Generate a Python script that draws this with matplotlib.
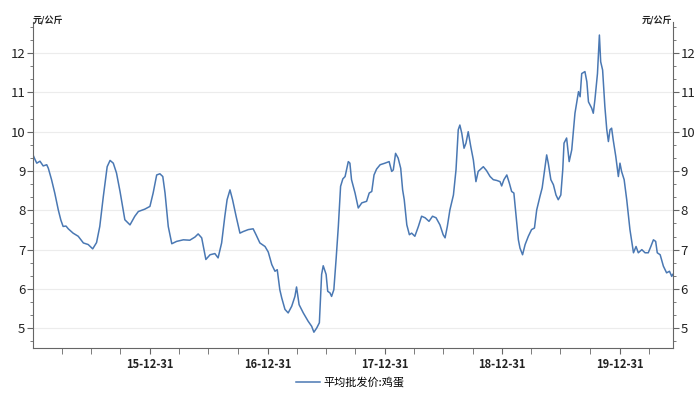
import numpy as np
import pandas as pd
import matplotlib
matplotlib.use('Agg')
import matplotlib.pyplot as plt
import matplotlib.dates as mdates
from matplotlib.ticker import MultipleLocator

plt.rcParams['font.family'] = ['Noto Sans CJK SC', 'DejaVu Sans']

# wholesale egg price, yuan/kg
dates = [
    '2015-01-01', '2015-01-06', '2015-01-13', '2015-01-23', '2015-02-02', '2015-02-13',
    '2015-02-18', '2015-02-28', '2015-03-10', '2015-03-21', '2015-03-29', '2015-04-05',
    '2015-04-14', '2015-04-21', '2015-05-06', '2015-05-22', '2015-06-07', '2015-06-22',
    '2015-07-06', '2015-07-18', '2015-07-28', '2015-08-08', '2015-08-20', '2015-08-29',
    '2015-09-08', '2015-09-18', '2015-09-29', '2015-10-14', '2015-10-30', '2015-11-14',
    '2015-11-25', '2015-12-15', '2015-12-31',
    '2016-01-10', '2016-01-21', '2016-01-31', '2016-02-09', '2016-02-16', '2016-02-26',
    '2016-03-08', '2016-03-23', '2016-04-13', '2016-05-03', '2016-05-19', '2016-05-29',
    '2016-06-09', '2016-06-22', '2016-07-05', '2016-07-20', '2016-07-30', '2016-08-10',
    '2016-08-20', '2016-08-27', '2016-09-05', '2016-09-13', '2016-09-24', '2016-10-06',
    '2016-10-16', '2016-11-01', '2016-11-16', '2016-11-25', '2016-12-07', '2016-12-23',
    '2017-01-02', '2017-01-13', '2017-01-23', '2017-01-30', '2017-02-07', '2017-02-13',
    '2017-02-23', '2017-03-05', '2017-03-16', '2017-03-26', '2017-03-31', '2017-04-08',
    '2017-04-21', '2017-05-06', '2017-05-17', '2017-05-24', '2017-06-02', '2017-06-10',
    '2017-06-17', '2017-06-22', '2017-07-01', '2017-07-06', '2017-07-13', '2017-07-18',
    '2017-07-25', '2017-08-01', '2017-08-08', '2017-08-15', '2017-08-22', '2017-08-29',
    '2017-09-08', '2017-09-13', '2017-09-18', '2017-09-29', '2017-10-09', '2017-10-20',
    '2017-11-04', '2017-11-12', '2017-11-20', '2017-11-27', '2017-12-05', '2017-12-16',
    '2017-12-31',
    '2018-01-13', '2018-01-21', '2018-01-26', '2018-02-02', '2018-02-10', '2018-02-18',
    '2018-02-24', '2018-03-01', '2018-03-09', '2018-03-17', '2018-03-24', '2018-04-03',
    '2018-04-14', '2018-04-24', '2018-05-05', '2018-05-17', '2018-05-28', '2018-06-08',
    '2018-06-20', '2018-06-30', '2018-07-06', '2018-07-13', '2018-07-21', '2018-08-01',
    '2018-08-09', '2018-08-16', '2018-08-21', '2018-08-27', '2018-09-03', '2018-09-09',
    '2018-09-16', '2018-09-24', '2018-10-02', '2018-10-10', '2018-10-17', '2018-11-02',
    '2018-11-12', '2018-11-23', '2018-12-03', '2018-12-14', '2018-12-24', '2018-12-29',
    '2019-01-05', '2019-01-14', '2019-01-22', '2019-01-29', '2019-02-05', '2019-02-12',
    '2019-02-19', '2019-02-24', '2019-03-04', '2019-03-12', '2019-03-22', '2019-04-01',
    '2019-04-10', '2019-04-17', '2019-04-27', '2019-05-04', '2019-05-13', '2019-05-18',
    '2019-05-23', '2019-05-31', '2019-06-08', '2019-06-16', '2019-06-23', '2019-07-01',
    '2019-07-07', '2019-07-11', '2019-07-19', '2019-07-27', '2019-08-04', '2019-08-14',
    '2019-08-25', '2019-08-30', '2019-09-04', '2019-09-14', '2019-09-20', '2019-09-25',
    '2019-10-05', '2019-10-10', '2019-10-15', '2019-10-23', '2019-10-29', '2019-11-02',
    '2019-11-08', '2019-11-15', '2019-11-21', '2019-11-26', '2019-12-01', '2019-12-06',
    '2019-12-11', '2019-12-19', '2019-12-27',
    '2020-01-01', '2020-01-06', '2020-01-14', '2020-01-22', '2020-02-01', '2020-02-12',
    '2020-02-20', '2020-02-27', '2020-03-09', '2020-03-19', '2020-03-29', '2020-04-06',
    '2020-04-14', '2020-04-21', '2020-04-26', '2020-05-05', '2020-05-15', '2020-05-25',
    '2020-06-03', '2020-06-10', '2020-06-13',
]
prices = [
    9.42, 9.32, 9.20, 9.25, 9.13, 9.16,
    9.07, 8.78, 8.44, 8.01, 7.75, 7.59,
    7.60, 7.53, 7.42, 7.34, 7.17, 7.13,
    7.02, 7.18, 7.59, 8.35, 9.11, 9.27,
    9.20, 8.95, 8.48, 7.76, 7.63, 7.85,
    7.97, 8.03, 8.10,
    8.44, 8.90, 8.93, 8.86, 8.44, 7.59,
    7.15, 7.21, 7.25, 7.24, 7.32, 7.40,
    7.30, 6.75, 6.87, 6.90, 6.79, 7.17,
    7.85, 8.27, 8.52, 8.27, 7.85, 7.42,
    7.46, 7.51, 7.53, 7.38, 7.17, 7.08,
    6.94, 6.62, 6.45, 6.49, 5.98, 5.77,
    5.48, 5.39, 5.56, 5.81, 6.05, 5.60,
    5.39, 5.18, 5.05, 4.90, 5.01, 5.14,
    6.37, 6.59, 6.37, 5.94, 5.90, 5.81,
    5.98, 6.75, 7.59, 8.61, 8.80, 8.86,
    9.24, 9.20, 8.78, 8.44, 8.06, 8.19,
    8.23, 8.44, 8.48, 8.90, 9.05, 9.16,
    9.20,
    9.24, 8.99, 9.03, 9.45, 9.33, 9.07,
    8.52, 8.27, 7.63, 7.38, 7.42, 7.34,
    7.59, 7.85, 7.81, 7.72, 7.85, 7.81,
    7.63, 7.38, 7.30, 7.59, 8.01, 8.39,
    9.03, 10.05, 10.17, 9.96, 9.58, 9.71,
    10.00, 9.62, 9.28, 8.73, 8.99, 9.11,
    9.01, 8.86, 8.78, 8.76, 8.73, 8.62,
    8.78, 8.90, 8.69, 8.48, 8.44, 7.85,
    7.25, 7.04, 6.87, 7.13, 7.34, 7.51,
    7.55, 8.01, 8.35, 8.57, 9.11, 9.41,
    9.20, 8.78, 8.65, 8.39, 8.27, 8.39,
    9.03, 9.71, 9.84, 9.24, 9.54, 10.47,
    11.02, 10.89, 11.48, 11.53, 11.27, 10.76,
    10.60, 10.47, 10.81, 11.48, 12.46, 11.78,
    11.57, 10.64, 10.05, 9.75, 10.05, 10.09,
    9.79, 9.37, 8.86,
    9.20, 8.99, 8.78, 8.27, 7.51, 6.92,
    7.08, 6.92, 7.00, 6.92, 6.92, 7.08,
    7.25, 7.21, 6.92, 6.87, 6.58, 6.41,
    6.45, 6.32, 6.37,
]
series_name = '平均批发价:鸡蛋'
unit = '元/公斤'

s = pd.Series(prices, index=pd.to_datetime(dates))

fig = plt.figure(figsize=(7, 3.94), dpi=100)
ax = fig.add_axes([0.047, 0.117, 0.914, 0.828])

line_color = '#4a78b3'
ax.plot(s.index, s.values, color=line_color, linewidth=1.1, label=series_name)

ax.set_xlim(pd.Timestamp('2015-01-01'), pd.Timestamp('2020-06-13'))
ax.set_ylim(4.5, 12.8)

# year-end labels, quarter-end minor ticks
ax.xaxis.set_major_locator(mdates.MonthLocator(bymonth=12, bymonthday=31))
ax.xaxis.set_minor_locator(mdates.MonthLocator(bymonth=[3, 6, 9], bymonthday=-1))
ax.xaxis.set_major_formatter(mdates.DateFormatter('%y-%m-%d'))
ax.yaxis.set_major_locator(MultipleLocator(1))
ax.yaxis.set_minor_locator(MultipleLocator(1 / 3))

ax.grid(axis='y', color='#ececec', linewidth=0.8)
ax.set_axisbelow(True)

ax.spines['top'].set_visible(False)
for side in ['left', 'right', 'bottom']:
    ax.spines[side].set_color('#666666')
    ax.spines[side].set_linewidth(0.8)

ax.tick_params(axis='y', which='both', left=True, right=True, labelleft=True,
               labelright=True, direction='out', color='#666666')
ax.tick_params(axis='y', which='major', length=4, labelsize=9.5, labelcolor='#222222', pad=1.5)
ax.tick_params(axis='y', which='minor', length=2.5)
ax.tick_params(axis='x', which='both', direction='out', color='#666666')
ax.tick_params(axis='x', which='major', length=4, labelsize=8, labelcolor='#222222', pad=3.5)
ax.tick_params(axis='x', which='minor', length=4)
for lbl in ax.get_xticklabels():
    lbl.set_fontweight('bold')

fig.text(0.047, 0.948, unit, fontsize=6.5, fontweight='bold', ha='left', va='center', color='#222222')
fig.text(0.961, 0.948, unit, fontsize=6.5, fontweight='bold', ha='right', va='center', color='#222222')

fig.legend(loc='lower center', bbox_to_anchor=(0.5, -0.01), frameon=False,
           fontsize=8, handlelength=2.2, handletextpad=0.3)

fig.savefig('out.png', dpi=100)
